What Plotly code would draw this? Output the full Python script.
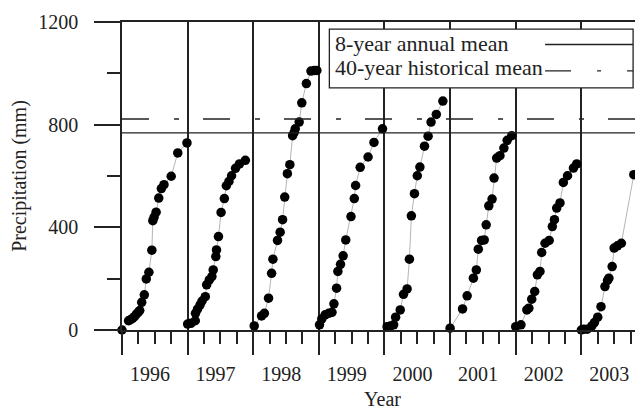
import plotly.graph_objects as go

# ---------------- data (fraction of year elapsed, cumulative precipitation mm) ----------------
years = [1996, 1997, 1998, 1999, 2000, 2001, 2002, 2003]
year_labels = ["1996", "1997", "1998", "1999", "2000", "2001", "2002", "2003"]

t_1996 = [0.0, 0.10, 0.13, 0.16, 0.19, 0.22, 0.25, 0.27, 0.30, 0.34, 0.37, 0.41, 0.455, 0.47, 0.49, 0.52, 0.56, 0.60, 0.64, 0.75, 0.85, 0.99]
p_1996 = [0, 36, 40, 45, 52, 62, 70, 76, 108, 137, 199, 225, 311, 426, 440, 459, 514, 551, 566, 599, 690, 729]

t_1997 = [0.0, 0.05, 0.117, 0.12, 0.15, 0.19, 0.22, 0.27, 0.29, 0.33, 0.37, 0.39, 0.43, 0.44, 0.47, 0.51, 0.56, 0.59, 0.63, 0.67, 0.73, 0.79, 0.88]
p_1997 = [23, 26, 36, 65, 81, 98, 113, 130, 176, 195, 208, 234, 286, 312, 364, 458, 512, 562, 579, 601, 630, 647, 661]

t_1998 = [0.015, 0.127, 0.17, 0.233, 0.28, 0.30, 0.37, 0.41, 0.447, 0.48, 0.52, 0.558, 0.60, 0.625, 0.64, 0.70, 0.74, 0.81, 0.88, 0.93, 0.97]
p_1998 = [16, 55, 65, 124, 221, 276, 349, 381, 430, 518, 609, 644, 757, 770, 784, 810, 885, 960, 1009, 1011, 1011]

t_1999 = [0.01, 0.045, 0.096, 0.15, 0.20, 0.23, 0.27, 0.29, 0.33, 0.37, 0.41, 0.49, 0.54, 0.56, 0.63, 0.75, 0.84, 0.97]
p_1999 = [20, 43, 59, 65, 69, 102, 163, 228, 256, 289, 351, 442, 512, 563, 634, 674, 731, 784]

t_2000 = [0.04, 0.09, 0.14, 0.17, 0.24, 0.29, 0.345, 0.38, 0.41, 0.457, 0.50, 0.54, 0.61, 0.665, 0.71, 0.79, 0.89]
p_2000 = [13, 16, 20, 50, 78, 139, 160, 276, 445, 531, 601, 635, 716, 755, 810, 840, 892]

t_2001 = [0.0, 0.19, 0.26, 0.355, 0.40, 0.43, 0.48, 0.52, 0.55, 0.59, 0.64, 0.67, 0.71, 0.76, 0.82, 0.87, 0.94]
p_2001 = [7, 82, 133, 202, 234, 315, 349, 351, 410, 484, 510, 592, 670, 679, 709, 739, 757]

t_2002 = [0.0, 0.08, 0.17, 0.20, 0.244, 0.29, 0.33, 0.37, 0.396, 0.447, 0.51, 0.558, 0.59, 0.625, 0.675, 0.726, 0.79, 0.88, 0.93]
p_2002 = [13, 20, 78, 85, 120, 150, 215, 228, 302, 338, 349, 403, 430, 475, 495, 575, 601, 631, 647]

t_2003 = [0.0, 0.036, 0.09, 0.16, 0.20, 0.25, 0.30, 0.36, 0.40, 0.42, 0.47, 0.50, 0.55, 0.61, 0.80, 0.92]
p_2003 = [0, 3, 3, 16, 29, 50, 91, 169, 193, 202, 247, 319, 328, 338, 605, 707]

mean_8yr = 768      # 8-year annual mean (mm)
mean_40yr = 822     # 40-year historical mean (mm)

series_t = [t_1996, t_1997, t_1998, t_1999, t_2000, t_2001, t_2002, t_2003]
series_p = [p_1996, p_1997, p_1998, p_1999, p_2000, p_2001, p_2002, p_2003]

X_END = 2003.94
FONT = "Liberation Serif"
DASH_40 = "27px,25px,5px,24px"

fig = go.Figure()

for yr, ts, ps in zip(years, series_t, series_p):
    fig.add_trace(go.Scatter(
        x=[yr + t for t in ts], y=ps, mode="lines+markers",
        line=dict(color="#b5b5b5", width=1),
        marker=dict(color="black", size=9.5),
        cliponaxis=False,
        showlegend=False, hoverinfo="skip"))

fig.add_trace(go.Scatter(x=[years[0], X_END], y=[mean_8yr, mean_8yr], mode="lines",
                         line=dict(color="#222", width=1.4), showlegend=False))
fig.add_trace(go.Scatter(x=[years[0], X_END], y=[mean_40yr, mean_40yr], mode="lines",
                         line=dict(color="#222", width=1.4, dash=DASH_40), showlegend=False))

# custom legend box (text left, sample line right)
fig.add_shape(type="rect", xref="paper", yref="paper", x0=0.398, x1=0.981, y0=0.786, y1=0.977,
              fillcolor="white", line=dict(color="#222", width=1.3), layer="above")
fig.add_shape(type="line", xref="paper", yref="paper", x0=0.812, x1=0.981, y0=0.927, y1=0.927,
              line=dict(color="#222", width=1.3), layer="above")
fig.add_shape(type="line", xref="paper", yref="paper", x0=0.812, x1=0.981, y0=0.841, y1=0.841,
              line=dict(color="#222", width=1.3, dash="26px,26px,4px,26px"), layer="above")
fig.add_annotation(xref="paper", yref="paper", x=0.405, y=0.929, xanchor="left", yanchor="middle",
                   text="8-year annual mean", showarrow=False, font=dict(family=FONT, size=22, color="#222"))
fig.add_annotation(xref="paper", yref="paper", x=0.405, y=0.853, xanchor="left", yanchor="middle",
                   text="40-year historical mean", showarrow=False, font=dict(family=FONT, size=22, color="#222"))

fig.update_layout(
    width=635, height=402,
    margin=dict(l=114, r=0, t=14, b=80),
    paper_bgcolor="white", plot_bgcolor="white",
    font=dict(family=FONT, size=20, color="#222"),
    xaxis=dict(
        range=[years[0], X_END],
        tickmode="array", tickvals=years, ticktext=year_labels,
        ticks="outside", ticklen=23, tickwidth=1.5, tickcolor="#222",
        ticklabelshift=28, ticklabelstandoff=2,
        showgrid=True, gridcolor="#222", gridwidth=1.5,
        showline=True, linecolor="#222", linewidth=1.5, mirror=True,
        zeroline=False,
        minor=dict(tickmode="linear", tick0=years[0], dtick=0.25, ticks="outside",
                   ticklen=12, tickwidth=1.5, tickcolor="#222", showgrid=False),
        title=dict(text="Year", font=dict(family=FONT, size=20), standoff=11),
    ),
    yaxis=dict(
        range=[0, 1200], tickmode="array", tickvals=[0, 400, 800, 1200],
        ticks="outside", ticklen=26, tickwidth=1.5, tickcolor="#222",
        ticklabelstandoff=12,
        showgrid=False, zeroline=False,
        showline=True, linecolor="#222", linewidth=1.5,
        minor=dict(tickmode="linear", tick0=0, dtick=200, ticks="outside",
                   ticklen=13, tickwidth=1.5, tickcolor="#222", showgrid=False),
        title=dict(text="Precipitation (mm)", font=dict(family=FONT, size=20), standoff=8),
    ),
)

fig.write_html("out.html")
